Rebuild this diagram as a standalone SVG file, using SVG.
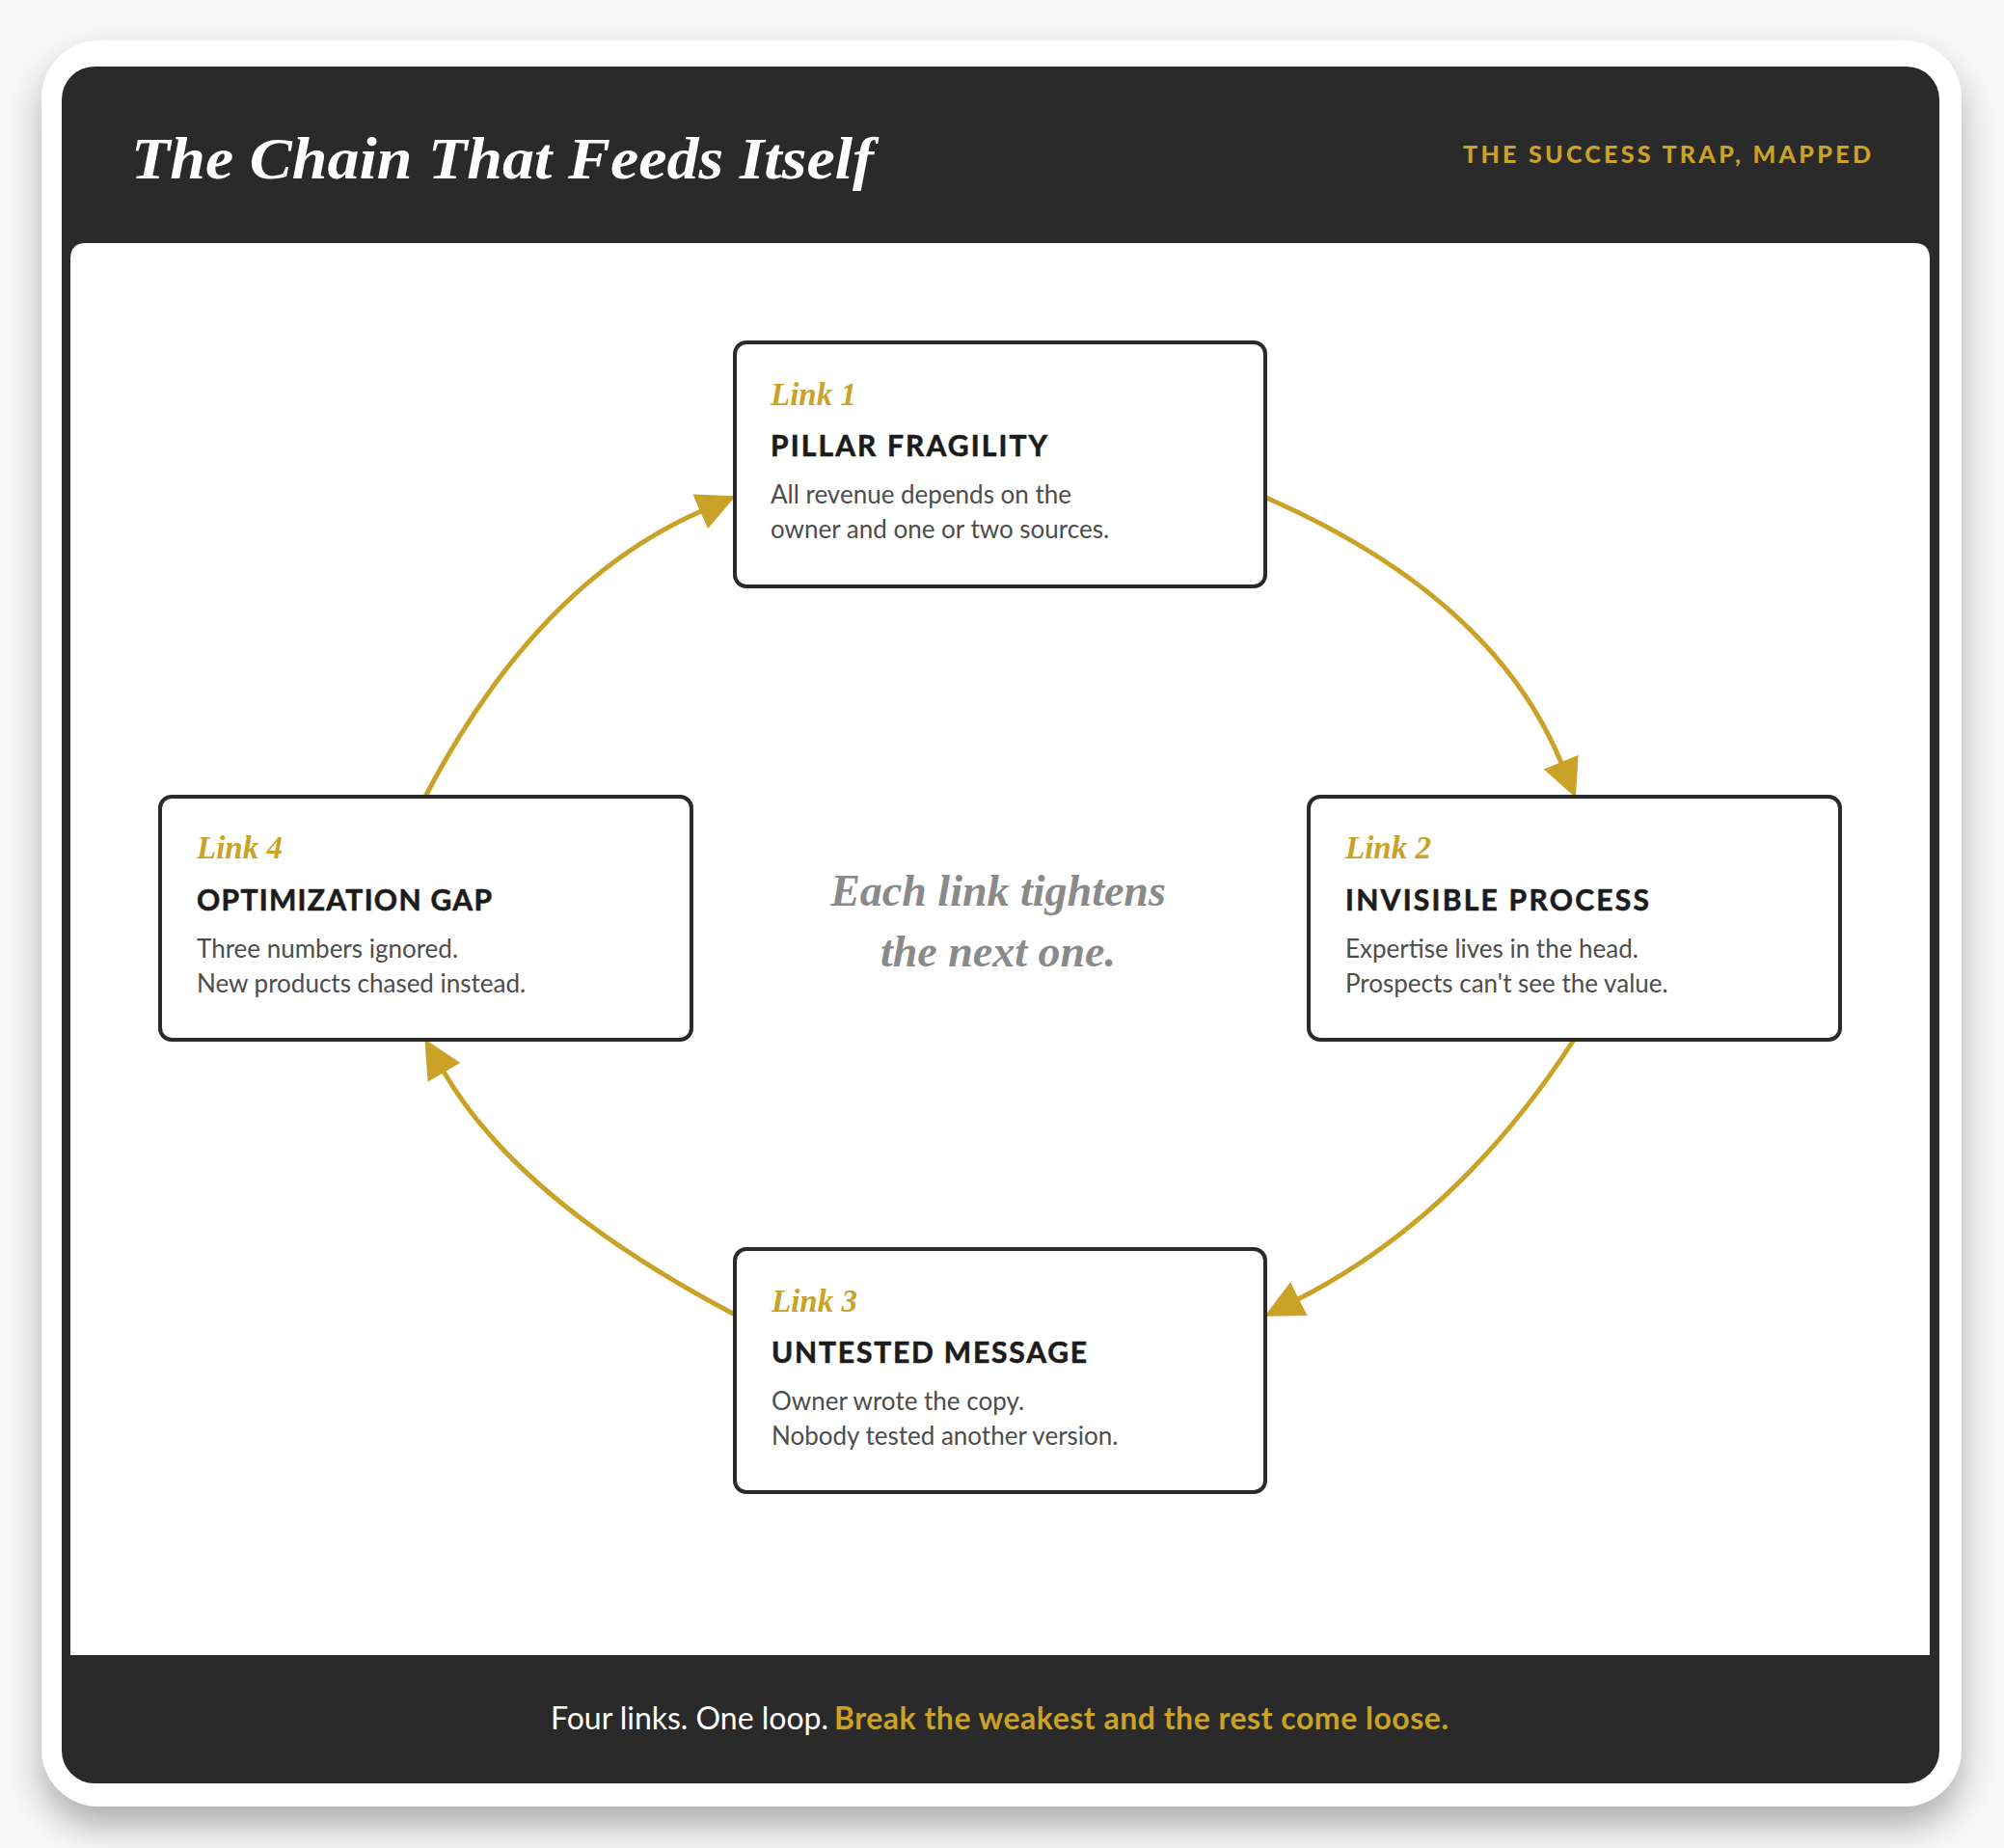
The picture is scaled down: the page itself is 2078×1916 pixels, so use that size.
<svg xmlns="http://www.w3.org/2000/svg" width="2078" height="1916" viewBox="0 0 2078 1916">
<defs>
<filter id="shadow" x="-10%" y="-10%" width="120%" height="125%">
<feGaussianBlur in="SourceAlpha" stdDeviation="18"/>
<feOffset dy="20" result="b"/>
<feComponentTransfer><feFuncA type="linear" slope="0.3"/></feComponentTransfer>
<feMerge><feMergeNode/><feMergeNode in="SourceGraphic"/></feMerge>
</filter>
<marker id="arrow" markerUnits="userSpaceOnUse" markerWidth="42" markerHeight="42" viewBox="-1 -21 42 42" refX="0" refY="0" orient="auto">
<path d="M-1,-19.5 L39,0 L-1,19.5 Z" fill="#C9A227"/>
</marker>
<style>
.box { fill:#ffffff; stroke:#2a2a2a; stroke-width:4; }
.lbl { font-family:"Liberation Serif", serif; font-style:italic; font-weight:bold; font-size:33px; fill:#C9A227; }
.ttl { font-family:Lato, "Liberation Sans", sans-serif; font-weight:700; font-size:30px; fill:#1c1c1c; stroke:#1c1c1c; stroke-width:0.6px; }
.dsc { font-family:Lato, "Liberation Sans", sans-serif; font-weight:400; font-size:26px; fill:#4d4d4d; }
.conn { fill:none; stroke:#C9A227; stroke-width:5; marker-end:url(#arrow); }
</style>
</defs>
<rect x="0" y="0" width="2078" height="1916" fill="#f7f7f7"/>
<rect x="43" y="42" width="1991" height="1831" rx="60" fill="#ffffff" filter="url(#shadow)"/>
<rect x="64" y="69" width="1947" height="1780" rx="34" fill="#2a2a2a"/>
<path d="M73,268 Q73,252 89,252 L1985,252 Q2001,252 2001,268 L2001,1716 L73,1716 Z" fill="#ffffff"/>
<text x="136" y="185" font-family="'Liberation Serif', serif" font-style="italic" font-weight="bold" font-size="62" fill="#ffffff" textLength="770" lengthAdjust="spacingAndGlyphs">The Chain That Feeds Itself</text>
<text x="1517" y="169" font-family="Lato, 'Liberation Sans', sans-serif" font-weight="900" font-size="25" fill="#C9A227" textLength="423">THE SUCCESS TRAP, MAPPED</text>
<g id="connectors">
<path class="conn" d="M1313,516 Q1548,619 1619,791"/>
<path class="conn" d="M1632,1078 Q1513,1262 1346,1347"/>
<path class="conn" d="M762,1363 Q538,1245 460,1111"/>
<path class="conn" d="M441,826 Q556,605 727,530"/>
</g>
<g id="node1">
<rect class="box" x="762" y="355" width="550" height="253" rx="12"/>
<text class="lbl" x="799" y="420">Link 1</text>
<text class="ttl" x="799" y="473" textLength="287">PILLAR FRAGILITY</text>
<text class="dsc" x="799" y="522">All revenue depends on the</text>
<text class="dsc" x="799" y="558">owner and one or two sources.</text>
</g>
<g id="node2">
<rect class="box" x="1357" y="826" width="551" height="252" rx="12"/>
<text class="lbl" x="1395" y="890">Link 2</text>
<text class="ttl" x="1395" y="944" textLength="315">INVISIBLE PROCESS</text>
<text class="dsc" x="1395" y="993">Expertise lives in the head.</text>
<text class="dsc" x="1395" y="1029">Prospects can't see the value.</text>
</g>
<g id="node3">
<rect class="box" x="762" y="1295" width="550" height="252" rx="12"/>
<text class="lbl" x="800" y="1360">Link 3</text>
<text class="ttl" x="800" y="1413" textLength="327">UNTESTED MESSAGE</text>
<text class="dsc" x="800" y="1462">Owner wrote the copy.</text>
<text class="dsc" x="800" y="1498">Nobody tested another version.</text>
</g>
<g id="node4">
<rect class="box" x="166" y="826" width="551" height="252" rx="12"/>
<text class="lbl" x="204" y="890">Link 4</text>
<text class="ttl" x="204" y="944" textLength="306">OPTIMIZATION GAP</text>
<text class="dsc" x="204" y="993">Three numbers ignored.</text>
<text class="dsc" x="204" y="1029">New products chased instead.</text>
</g>
<g id="center-note" font-family="'Liberation Serif', serif" font-style="italic" font-weight="bold" font-size="46" fill="#8a8a8a" text-anchor="middle">
<text x="1035" y="939">Each link tightens</text>
<text x="1035" y="1002">the next one.</text>
</g>
<g id="footer" font-family="Lato, 'Liberation Sans', sans-serif" font-size="32">
<text x="571" y="1793" fill="#ffffff" textLength="288">Four links. One loop.</text>
<text x="865" y="1793" fill="#C9A227" font-weight="700" textLength="637">Break the weakest and the rest come loose.</text>
</g>
</svg>
